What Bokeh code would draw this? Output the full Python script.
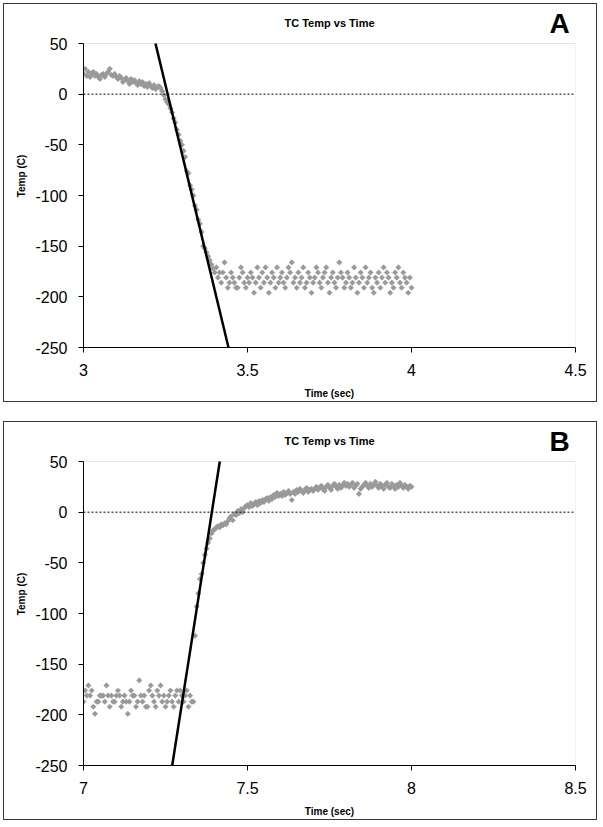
from math import pi
from bokeh.plotting import figure
from bokeh.layouts import column
from bokeh.models import Range1d, FixedTicker, Span, BoxAnnotation, NumeralTickFormatter
from bokeh.core.properties import value
from bokeh.embed import file_html
from bokeh.resources import INLINE

# ---------------- data ----------------
time_a = [
    3.000, 3.005, 3.010, 3.015, 3.020, 3.025, 3.030, 3.035, 3.040, 3.045, 3.050, 3.055, 3.060, 3.065, 3.070, 3.075, 3.080, 3.085, 3.090, 3.095,
    3.100, 3.105, 3.110, 3.115, 3.120, 3.125, 3.130, 3.135, 3.140, 3.145, 3.150, 3.155, 3.160, 3.165, 3.170, 3.175, 3.180, 3.185, 3.190, 3.195,
    3.200, 3.205, 3.210, 3.215, 3.220, 3.225, 3.230, 3.235, 3.240, 3.245, 3.250, 3.255, 3.260, 3.265, 3.270, 3.275, 3.280, 3.285, 3.290, 3.295,
    3.300, 3.305, 3.310, 3.315, 3.320, 3.325, 3.330, 3.335, 3.340, 3.345, 3.350, 3.355, 3.360, 3.365, 3.370, 3.375, 3.380, 3.385, 3.390, 3.395,
    3.400, 3.405, 3.410, 3.415, 3.420, 3.425, 3.430, 3.435, 3.440, 3.445, 3.450, 3.455, 3.460, 3.465, 3.470, 3.475, 3.480, 3.485, 3.490, 3.495,
    3.500, 3.505, 3.510, 3.515, 3.520, 3.525, 3.530, 3.535, 3.540, 3.545, 3.550, 3.555, 3.560, 3.565, 3.570, 3.575, 3.580, 3.585, 3.590, 3.595,
    3.600, 3.605, 3.610, 3.615, 3.620, 3.625, 3.630, 3.635, 3.640, 3.645, 3.650, 3.655, 3.660, 3.665, 3.670, 3.675, 3.680, 3.685, 3.690, 3.695,
    3.700, 3.705, 3.710, 3.715, 3.720, 3.725, 3.730, 3.735, 3.740, 3.745, 3.750, 3.755, 3.760, 3.765, 3.770, 3.775, 3.780, 3.785, 3.790, 3.795,
    3.800, 3.805, 3.810, 3.815, 3.820, 3.825, 3.830, 3.835, 3.840, 3.845, 3.850, 3.855, 3.860, 3.865, 3.870, 3.875, 3.880, 3.885, 3.890, 3.895,
    3.900, 3.905, 3.910, 3.915, 3.920, 3.925, 3.930, 3.935, 3.940, 3.945, 3.950, 3.955, 3.960, 3.965, 3.970, 3.975, 3.980, 3.985, 3.990, 3.995,
    4.000,
]
temp_a = [
    20, 25, 18, 22, 17, 20, 22, 18, 20, 17, 15, 19, 20, 17, 20, 22, 25, 19, 18, 20,
    17, 15, 18, 16, 12, 14, 16, 13, 10, 15, 12, 14, 11, 9, 13, 10, 12, 8, 10, 7,
    11, 8, 6, 9, 5, 7, 8, 6, 3, -1, -5, -8, -10, -14, -18, -24, -28, -35, -40, -46,
    -50, -56, -62, -76, -78, -90, -94, -100, -110, -114, -124, -128, -136, -150, -152, -156, -160, -164, -168, -172,
    -176, -171, -181, -176, -186, -176, -166, -181, -191, -186, -176, -181, -186, -191, -191, -181, -171, -176, -186, -191,
    -181, -186, -176, -181, -196, -186, -171, -181, -191, -176, -186, -171, -181, -196, -186, -176, -181, -191, -171, -186,
    -181, -176, -186, -191, -181, -171, -176, -166, -186, -181, -191, -176, -186, -181, -171, -191, -186, -176, -181, -196,
    -186, -181, -171, -176, -186, -191, -181, -176, -171, -186, -196, -181, -176, -186, -191, -181, -166, -176, -181, -191,
    -186, -176, -181, -191, -186, -171, -181, -196, -186, -176, -181, -191, -171, -186, -181, -176, -191, -196, -181, -186,
    -176, -191, -181, -171, -186, -176, -181, -196, -186, -191, -176, -181, -171, -186, -191, -176, -181, -186, -196, -181,
    -191,
]
fit_a_time = [3.2195, 3.442]
fit_a_temp = [50, -250]

time_b = [
    7.000, 7.005, 7.010, 7.015, 7.020, 7.025, 7.030, 7.035, 7.040, 7.045, 7.050, 7.055, 7.060, 7.065, 7.070, 7.075, 7.080, 7.085, 7.090, 7.095,
    7.100, 7.105, 7.110, 7.115, 7.120, 7.125, 7.130, 7.135, 7.140, 7.145, 7.150, 7.155, 7.160, 7.165, 7.170, 7.175, 7.180, 7.185, 7.190, 7.195,
    7.200, 7.205, 7.210, 7.215, 7.220, 7.225, 7.230, 7.235, 7.240, 7.245, 7.250, 7.255, 7.260, 7.265, 7.270, 7.275, 7.280, 7.285, 7.290, 7.295,
    7.300, 7.305, 7.310, 7.315, 7.320, 7.325, 7.330, 7.335, 7.340, 7.345, 7.350, 7.355, 7.360, 7.365, 7.370, 7.375, 7.380, 7.385, 7.390, 7.395,
    7.400, 7.405, 7.410, 7.415, 7.420, 7.425, 7.430, 7.435, 7.440, 7.445, 7.450, 7.455, 7.460, 7.465, 7.470, 7.475, 7.480, 7.485, 7.490, 7.495,
    7.500, 7.505, 7.510, 7.515, 7.520, 7.525, 7.530, 7.535, 7.540, 7.545, 7.550, 7.555, 7.560, 7.565, 7.570, 7.575, 7.580, 7.585, 7.590, 7.595,
    7.600, 7.605, 7.610, 7.615, 7.620, 7.625, 7.630, 7.635, 7.640, 7.645, 7.650, 7.655, 7.660, 7.665, 7.670, 7.675, 7.680, 7.685, 7.690, 7.695,
    7.700, 7.705, 7.710, 7.715, 7.720, 7.725, 7.730, 7.735, 7.740, 7.745, 7.750, 7.755, 7.760, 7.765, 7.770, 7.775, 7.780, 7.785, 7.790, 7.795,
    7.800, 7.805, 7.810, 7.815, 7.820, 7.825, 7.830, 7.835, 7.840, 7.845, 7.850, 7.855, 7.860, 7.865, 7.870, 7.875, 7.880, 7.885, 7.890, 7.895,
    7.900, 7.905, 7.910, 7.915, 7.920, 7.925, 7.930, 7.935, 7.940, 7.945, 7.950, 7.955, 7.960, 7.965, 7.970, 7.975, 7.980, 7.985, 7.990, 7.995,
    8.000,
]
temp_b = [
    -187, -176, -181, -171, -181, -176, -192, -199, -187, -187, -181, -181, -181, -187, -171, -181, -192, -181, -187, -187,
    -181, -176, -181, -192, -187, -181, -187, -199, -187, -176, -181, -181, -192, -187, -166, -181, -187, -181, -192, -192,
    -176, -171, -181, -187, -192, -176, -181, -171, -187, -181, -192, -187, -181, -176, -187, -192, -181, -176, -187, -176,
    -181, -187, -181, -176, -192, -181, -187, -187, -122, -93, -80, -66, -61, -50, -42, -36, -30, -26, -21, -18,
    -17, -15, -14, -15, -12, -13, -11, -12, -9, -6, -4, -8, -2, -3, 1, -1, 3, 0, 4, 6,
    7, 5, 9, 6, 8, 10, 7, 11, 9, 12, 10, 13, 14, 11, 15, 13, 17, 15, 19, 16,
    18, 16, 20, 17, 19, 21, 18, 12, 20, 18, 22, 20, 23, 21, 19, 22, 24, 20, 22, 23,
    21, 23, 25, 22, 24, 26, 23, 21, 25, 27, 24, 22, 26, 28, 25, 23, 27, 24, 26, 29,
    26, 28, 25, 27, 29, 24, 26, 28, 18, 23, 25, 27, 29, 26, 24, 28, 25, 27, 30, 26,
    24, 28, 26, 23, 27, 29, 25, 24, 28, 26, 23, 27, 25, 29, 26, 24, 27, 25, 23, 26,
    25,
]
fit_b_time = [7.2704, 7.4155]
fit_b_temp = [-250, 50]

x_ticks_a = [3, 3.5, 4, 4.5]
x_ticks_b = [7, 7.5, 8, 8.5]
y_ticks = [-250, -200, -150, -100, -50, 0, 50]
title_text = "TC Temp vs Time"
x_label = "Time (sec)"
y_label = "Temp (C)"
letters = ["A", "B"]

FONT = "Liberation Sans"
PX_PER_DEG = 304.0 / 300.0     # vertical scale of the plot area
Y_TOP = 50 + 39 / PX_PER_DEG    # plot area extends up to the panel top


def make_panel(t, temp, ft, ftemp, xticks, letter):
    p = figure(
        width=594, height=399,
        x_range=Range1d(xticks[0], xticks[-1]),
        y_range=Range1d(y_ticks[0], Y_TOP),
        output_backend="svg", toolbar_location=None,
        min_border_left=79, min_border_right=23,
        min_border_top=0, min_border_bottom=56,
        styles={"border": "1px solid #3a3a3a"},
    )
    p.xgrid.visible = False
    p.ygrid.visible = False
    p.outline_line_color = None
    p.background_fill_color = "white"
    p.border_fill_color = "white"

    for ax in (p.xaxis[0], p.yaxis[0]):
        ax.axis_line_color = "black"
        ax.major_tick_line_color = "black"
        ax.minor_tick_line_color = None
        ax.major_tick_out = 5
        ax.major_tick_in = 0
        ax.major_label_text_font = FONT
        ax.major_label_text_font_size = "16px"
        ax.major_label_text_color = "black"
        ax.axis_label_text_font = FONT
        ax.axis_label_text_font_size = "10px"
        ax.axis_label_text_font_style = "bold"
        ax.axis_label_text_color = "black"

    p.xaxis.ticker = FixedTicker(ticks=xticks)
    p.xaxis.formatter = NumeralTickFormatter(format="0.[0]")
    p.xaxis.axis_label = x_label
    p.xaxis.major_label_standoff = 11
    p.xaxis.axis_label_standoff = 9

    p.yaxis.ticker = FixedTicker(ticks=y_ticks)
    p.yaxis.formatter = NumeralTickFormatter(format="0")
    p.yaxis.bounds = (y_ticks[0], y_ticks[-1])
    p.yaxis.axis_label = y_label
    p.yaxis.major_label_standoff = 11
    p.yaxis.axis_label_standoff = 5

    # plot-area outline (grey top / right edges)
    p.add_layout(BoxAnnotation(left=xticks[0], right=xticks[-1],
                               bottom=y_ticks[0], top=y_ticks[-1],
                               fill_color=None, line_color="#a6a6a6",
                               line_width=1, level="underlay"))
    p.add_layout(Span(location=0, dimension="width", line_color="black",
                      line_dash="2 2", line_width=1))

    p.scatter(t, temp, marker="square", angle=pi / 4, size=4.0,
              fill_color="#999999", line_color="#999999", line_width=0.3)
    p.line(ft, ftemp, line_color="black", line_width=2.5)

    # chart title and panel letter in the band above the plot area
    mid = (xticks[0] + xticks[-1]) / 2
    p.text(x=[mid], y=[50 + 21 / PX_PER_DEG], text=[title_text],
           text_font=value(FONT), text_font_size="11px",
           text_font_style="bold", text_color="black",
           text_align="center", text_baseline="middle")
    p.text(x=[xticks[-1] - 16 / 328], y=[50 + 20 / PX_PER_DEG], text=[letter],
           text_font=value(FONT), text_font_size="28px",
           text_font_style="bold", text_color="black",
           text_align="center", text_baseline="middle")
    return p


pa = make_panel(time_a, temp_a, fit_a_time, fit_a_temp, x_ticks_a, letters[0])
pb = make_panel(time_b, temp_b, fit_b_time, fit_b_temp, x_ticks_b, letters[1])

layout = column(pa, pb, spacing=19,
                styles={"margin-left": "3px", "margin-top": "3px"})

open("out.html", "w").write(file_html(layout, INLINE))
